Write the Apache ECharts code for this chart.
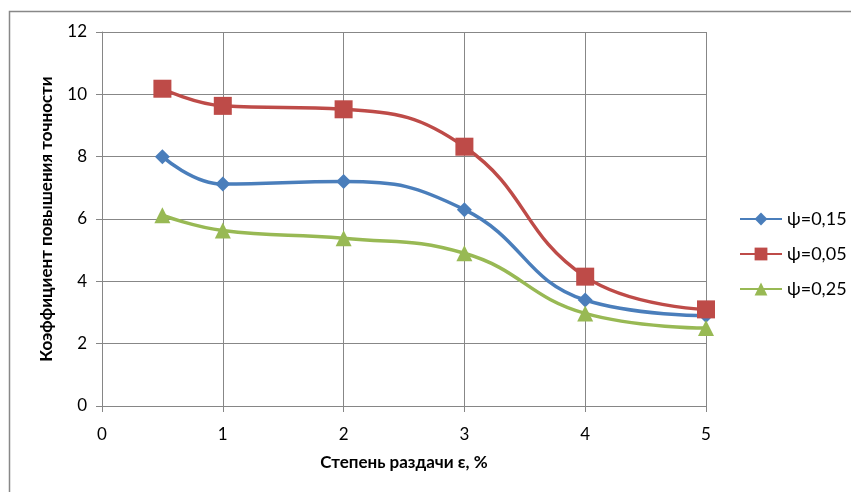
<!DOCTYPE html>
<html>
<head>
<meta charset="utf-8">
<script src="https://cdn.jsdelivr.net/npm/echarts@6/dist/echarts.min.js"></script>
<style>
html,body{margin:0;padding:0;background:#fff;}
#chart{width:851px;height:492px;}
</style>
</head>
<body>
<div id="chart"></div>
<script>
// Degree of expansion, % (x positions of the measurements)
const epsValues = [0.5, 1, 2, 3, 4, 5];
// Accuracy improvement coefficient for each ψ
const psi015 = [8.0, 7.12, 7.2, 6.3, 3.4, 2.9];
const psi005 = [10.18, 9.63, 9.52, 8.32, 4.15, 3.1];
const psi025 = [6.12, 5.63, 5.38, 4.9, 2.97, 2.5];
const seriesNames = ['ψ=0,15', 'ψ=0,05', 'ψ=0,25'];
const xTicks = [0, 1, 2, 3, 4, 5];
const yTicks = [0, 2, 4, 6, 8, 10, 12];

const font = 'Lato, "Open Sans", sans-serif';
const pairs = arr => epsValues.map((x, i) => [x, arr[i]]);

function lineSeries(name, data, color, symbol, size) {
  return {
    name: name,
    type: 'line',
    data: pairs(data),
    smooth: 0.45,
    symbol: symbol,
    symbolSize: size,
    lineStyle: { color: color, width: 3.5 },
    itemStyle: { color: color },
    z: 3
  };
}

const chart = echarts.init(document.getElementById('chart'), null, { renderer: 'canvas' });
chart.setOption({
  animation: false,
  backgroundColor: '#fff',
  graphic: [{
    type: 'rect',
    shape: { x: 9.5, y: 11.5, width: 900, height: 600 },
    style: { fill: 'none', stroke: '#888', lineWidth: 1.5 },
    silent: true
  }],
  grid: { left: 102, top: 32, right: 145, bottom: 86 },
  xAxis: {
    type: 'value',
    min: xTicks[0], max: xTicks[xTicks.length - 1], interval: 1,
    name: 'Степень раздачи ε, %',
    nameLocation: 'middle', nameGap: 48,
    nameTextStyle: { fontFamily: font, fontSize: 17, fontWeight: 'bold', color: '#000' },
    axisLine: { show: true, lineStyle: { color: '#868686', width: 1 } },
    axisTick: { show: true, length: 6, lineStyle: { color: '#868686' } },
    axisLabel: { fontFamily: font, fontSize: 17, color: '#000', margin: 20 },
    splitLine: { show: true, lineStyle: { color: '#878787', width: 1 } }
  },
  yAxis: {
    type: 'value',
    min: yTicks[0], max: yTicks[yTicks.length - 1], interval: 2,
    name: 'Коэффициент повышения точности',
    nameLocation: 'middle', nameGap: 47,
    nameTextStyle: { fontFamily: font, fontSize: 17, fontWeight: 'bold', color: '#000' },
    axisLine: { show: true, lineStyle: { color: '#868686', width: 1 } },
    axisTick: { show: true, length: 6, lineStyle: { color: '#868686' } },
    axisLabel: { fontFamily: font, fontSize: 17, color: '#000', margin: 15 },
    splitLine: { show: true, lineStyle: { color: '#878787', width: 1 } }
  },
  legend: {
    orient: 'vertical',
    left: 734, top: 205,
    itemGap: 17,
    itemWidth: 42, itemHeight: 16,
    textStyle: { fontFamily: font, fontSize: 18, color: '#000' },
    data: seriesNames
  },
  series: [
    lineSeries(seriesNames[0], psi015, '#4A7EBB', 'diamond', 15),
    lineSeries(seriesNames[1], psi005, '#BE4B48', 'rect', 18),
    lineSeries(seriesNames[2], psi025, '#98B954', 'triangle', 16)
  ]
});
</script>
</body>
</html>
